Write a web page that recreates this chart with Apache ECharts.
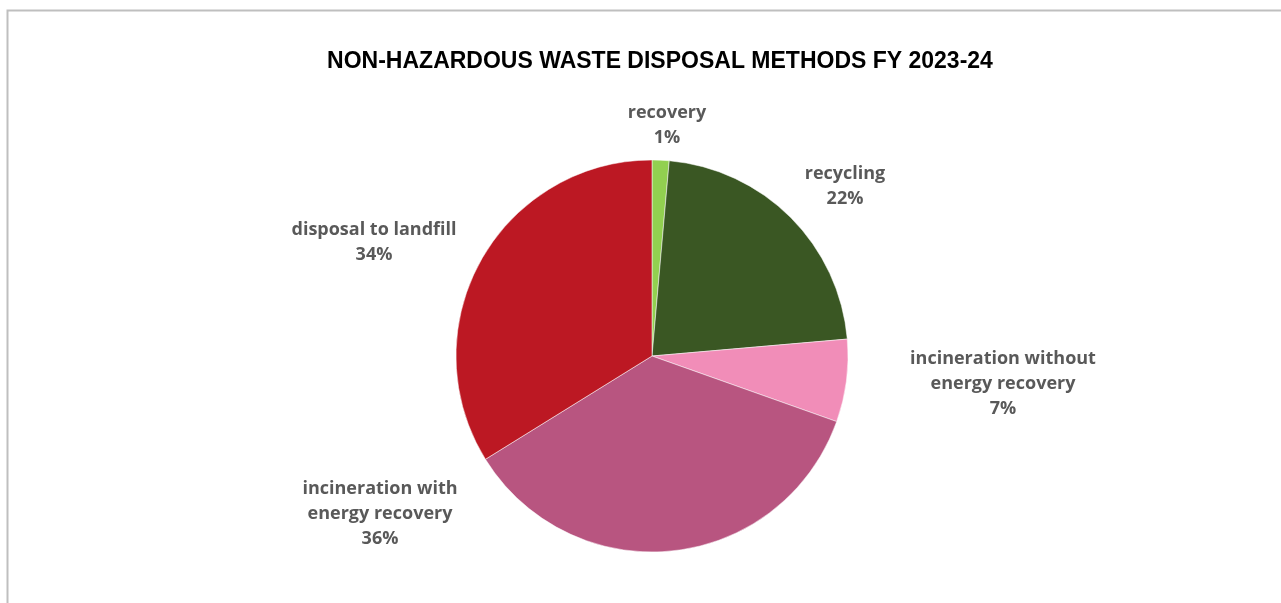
<!DOCTYPE html>
<html>
<head>
<meta charset="utf-8">
<title>Non-hazardous waste disposal methods FY 2023-24</title>
<script src="https://cdn.jsdelivr.net/npm/echarts@6/dist/echarts.min.js"></script>
<style>
  html, body { margin: 0; padding: 0; background: #ffffff; }
  #chart { width: 1281px; height: 603px; }
</style>
</head>
<body>
<div id="chart"></div>
<script>
// Disposal methods, clockwise from 12 o'clock
const categories = [
  'recovery',
  'recycling',
  'incineration without energy recovery',
  'incineration with energy recovery',
  'disposal to landfill'
];
// Share of non-hazardous waste (%)
const shares = [1.4, 22.2, 6.8, 35.7, 33.8];
const sliceColors = ['#92d050', '#3a5723', '#f18db8', '#b85580', '#bc1823'];

// Label anchor points (px) for each slice's data label
const labelAnchors = [
  [667, 125],
  [845, 186],
  [1003, 384],
  [380, 514],
  [374, 242]
];

const chart = echarts.init(document.getElementById('chart'), null, { renderer: 'canvas' });

const labelFont = '"Open Sans", "DejaVu Sans", sans-serif';

chart.setOption({
  backgroundColor: '#ffffff',
  animation: false,
  title: {
    text: 'NON-HAZARDOUS WASTE DISPOSAL METHODS FY 2023-24',
    left: 655,
    textAlign: 'center',
    top: 45,
    textStyle: {
      fontFamily: '"Liberation Sans", Arial, sans-serif',
      fontSize: 23,
      fontWeight: 'bold',
      color: '#000000'
    }
  },
  graphic: [{
    type: 'rect',
    shape: { x: 7.5, y: 10.5, width: 1300, height: 700 },
    style: { fill: 'none', stroke: '#bfbfbf', lineWidth: 2 },
    silent: true,
    z: -1
  }],
  series: [{
    type: 'pie',
    center: [652, 356],
    radius: 196,
    startAngle: 90,
    clockwise: true,
    avoidLabelOverlap: false,
    itemStyle: { borderColor: '#ffffff', borderWidth: 0.5 },
    label: {
      show: true,
      position: 'outside',
      color: '#595959',
      fontFamily: labelFont,
      fontSize: 18,
      fontWeight: 'bold',
      lineHeight: 25,
      align: 'center',
      formatter: function (p) {
        const name = p.name.replace(' energy', '\nenergy');
        return name + '\n' + Math.round(p.percent) + '%';
      }
    },
    labelLine: { show: false },
    labelLayout: function (params) {
      const a = labelAnchors[params.dataIndex];
      return { x: a[0], y: a[1], align: 'center', verticalAlign: 'middle', hideOverlap: false };
    },
    emphasis: { disabled: true },
    data: categories.map(function (c, i) {
      return { name: c, value: shares[i], itemStyle: { color: sliceColors[i] } };
    })
  }]
});
</script>
</body>
</html>
